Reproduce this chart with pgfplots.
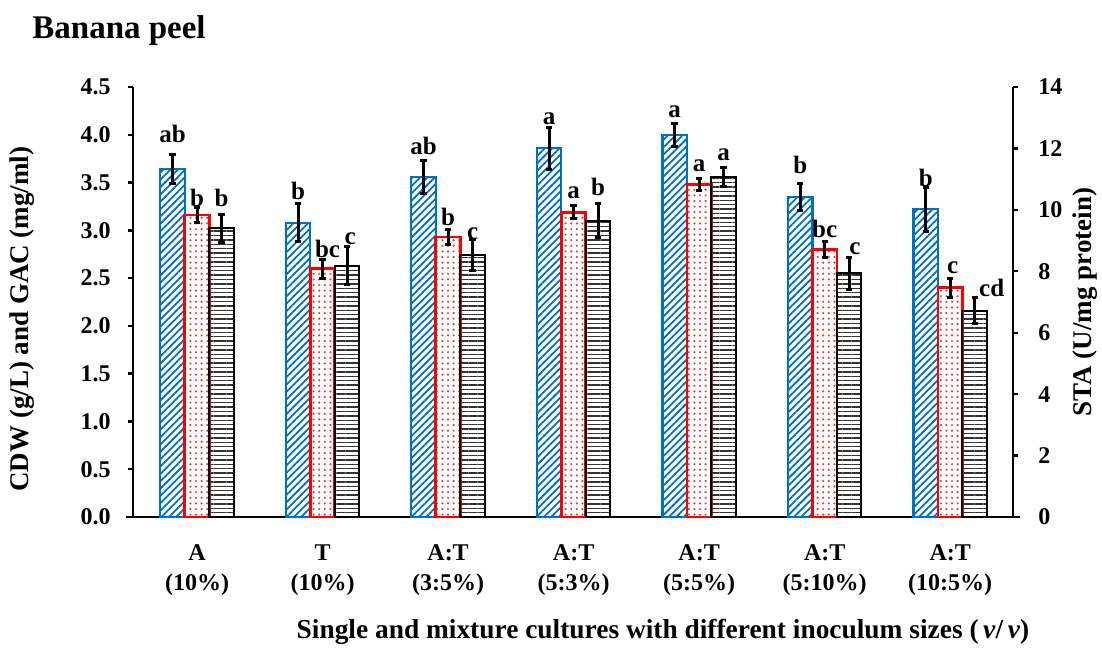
\documentclass[border=0pt]{standalone}
\usepackage{fontspec}
\setmainfont{Liberation Serif}
\usepackage{pgfplots}
\pgfplotsset{compat=1.18}
\usetikzlibrary{patterns.meta}
\definecolor{cblue}{RGB}{0,112,192}
\definecolor{cred}{RGB}{255,0,0}
\definecolor{cpink}{RGB}{235,60,60}

\pgfplotsset{
  barerr/.style={
    error bars/.cd, y dir=both, y explicit,
    error bar style={line width=1.5pt, black},
    error mark options={rotate=90, mark size=1.6pt, line width=1.5pt, black},
  },
}

\begin{document}
\begin{tikzpicture}
\path[use as bounding box] (-66.5pt,-66pt) rectangle (484.5pt,258.5pt);
\begin{axis}[
  scale only axis, width=440pt, height=215pt,
  xmin=-0.51, xmax=6.5, ymin=0, ymax=4.5,
  axis y line*=left, axis x line*=bottom,
  axis line style={line width=1.2pt, -},
  x axis line style={shorten <=-3.5pt, shorten >=-3.5pt},
  tick align=outside,
  major tick length=2.5pt,
  tick style={line width=1.2pt, black},
  xtick style={draw=none},
  ytick={0,0.5,1,1.5,2,2.5,3,3.5,4,4.5},
  yticklabel style={anchor=east, inner sep=0pt, xshift=-8.5pt,
    font=\fontsize{12}{14}\selectfont\bfseries,
    /pgf/number format/.cd, fixed, fixed zerofill, precision=1, assume math mode=true},
  xtick={0,1,2,3,4,5,6},
  xticklabels={{A\\(10\%)},{T\\(10\%)},{A:T\\(3:5\%)},{A:T\\(5:3\%)},{A:T\\(5:5\%)},{A:T\\(5:10\%)},{A:T\\(10:5\%)}},
  xticklabel style={anchor=north, inner sep=0pt, yshift=-11pt, align=center,
    font=\fontsize{12}{15}\selectfont\bfseries},
  ylabel={CDW (g/L) and GAC (mg/ml)},
  ylabel style={at={(rel axis cs:0,0.46)}, anchor=center, yshift=55.5pt,
    font=\fontsize{13.5}{15}\selectfont\bfseries},
  xlabel={Single and mixture cultures with different inoculum sizes (\,\textit{v}/\,\textit{v})},
  xlabel style={at={(rel axis cs:0.5,0)}, anchor=center, xshift=45pt, yshift=-57.5pt,
    font=\fontsize{13.7}{15}\selectfont\bfseries},
  clip=false,
]
% CDW (blue)
\addplot[ybar, bar width=0.195, bar shift=0, draw=cblue, line width=1.1pt,
  pattern={Lines[angle=45, distance=2.6pt, line width=0.9pt]}, pattern color=cblue, barerr]
  coordinates {(-0.195,3.64) +- (0,0.15) (0.805,3.08) +- (0,0.20) (1.805,3.56) +- (0,0.17) (2.805,3.86) +- (0,0.22)
               (3.805,4.00) +- (0,0.12) (4.805,3.35) +- (0,0.14) (5.805,3.22) +- (0,0.23)};
% GAC (red)
\addplot[ybar, bar width=0.195, bar shift=0, draw=cred, line width=1.4pt,
  pattern={Dots[distance=2.8pt, radius=0.6pt]}, pattern color=cpink, barerr]
  coordinates {(0,3.16) +- (0,0.08) (1,2.60) +- (0,0.10) (2,2.93) +- (0,0.08) (3,3.19) +- (0,0.07)
               (4,3.48) +- (0,0.06) (5,2.80) +- (0,0.08) (6,2.40) +- (0,0.10)};
% STA (black), in left-axis units (= STA * 4.5/14)
\addplot[ybar, bar width=0.195, bar shift=0, draw=black, line width=1pt,
  pattern={Lines[angle=0, distance=2.2pt, line width=0.7pt]}, pattern color=black!80, barerr]
  coordinates {(0.195,3.02) +- (0,0.15) (1.195,2.63) +- (0,0.20) (2.195,2.74) +- (0,0.16) (3.195,3.10) +- (0,0.18)
               (4.195,3.56) +- (0,0.10) (5.195,2.55) +- (0,0.17) (6.195,2.16) +- (0,0.14)};
% significance letters
\addplot[draw=none, mark=none, nodes near coords, point meta=explicit symbolic,
  nodes near coords style={anchor=base, inner sep=0pt, font=\fontsize{12.5}{14}\selectfont\bfseries}]
  coordinates {
   (-0.195,3.92)[ab] (0,3.25)[b] (0.195,3.25)[b]
   (0.805,3.32)[b] (1.04,2.72)[bc] (1.22,2.85)[c]
   (1.805,3.79)[ab] (2,3.05)[b] (2.195,2.90)[c]
   (2.805,4.11)[a] (3,3.33)[a] (3.195,3.36)[b]
   (3.805,4.18)[a] (4,3.62)[a] (4.195,3.73)[a]
   (4.805,3.59)[b] (5,2.93)[bc] (5.24,2.75)[c]
   (5.805,3.46)[b] (6.02,2.55)[c] (6.33,2.31)[cd]
  };
\node[anchor=base west, inner sep=0pt, font=\fontsize{16.5}{18}\selectfont\bfseries]
  at (rel axis cs:0,1) [xshift=-50.5pt, yshift=24.5pt] {Banana peel};
\end{axis}
\begin{axis}[
  scale only axis, width=440pt, height=215pt,
  xmin=-0.51, xmax=6.5, ymin=0, ymax=14,
  axis y line*=right, axis x line=none,
  axis line style={line width=1.2pt, -},
  tick align=outside,
  major tick length=2.5pt,
  tick style={line width=1.2pt, black},
  ytick={0,2,4,6,8,10,12,14},
  yticklabel style={anchor=west, inner sep=0pt, xshift=10pt,
    font=\fontsize{12}{14}\selectfont\bfseries,
    /pgf/number format/assume math mode=true},
  ylabel={STA (U/mg protein)},
  ylabel style={at={(rel axis cs:1,0.5)}, anchor=center, yshift=-36pt,
    font=\fontsize{13.5}{15}\selectfont\bfseries},
]
\addplot[draw=none, mark=none] coordinates {(0,0) (6,14)};
\end{axis}
\end{tikzpicture}
\end{document}
